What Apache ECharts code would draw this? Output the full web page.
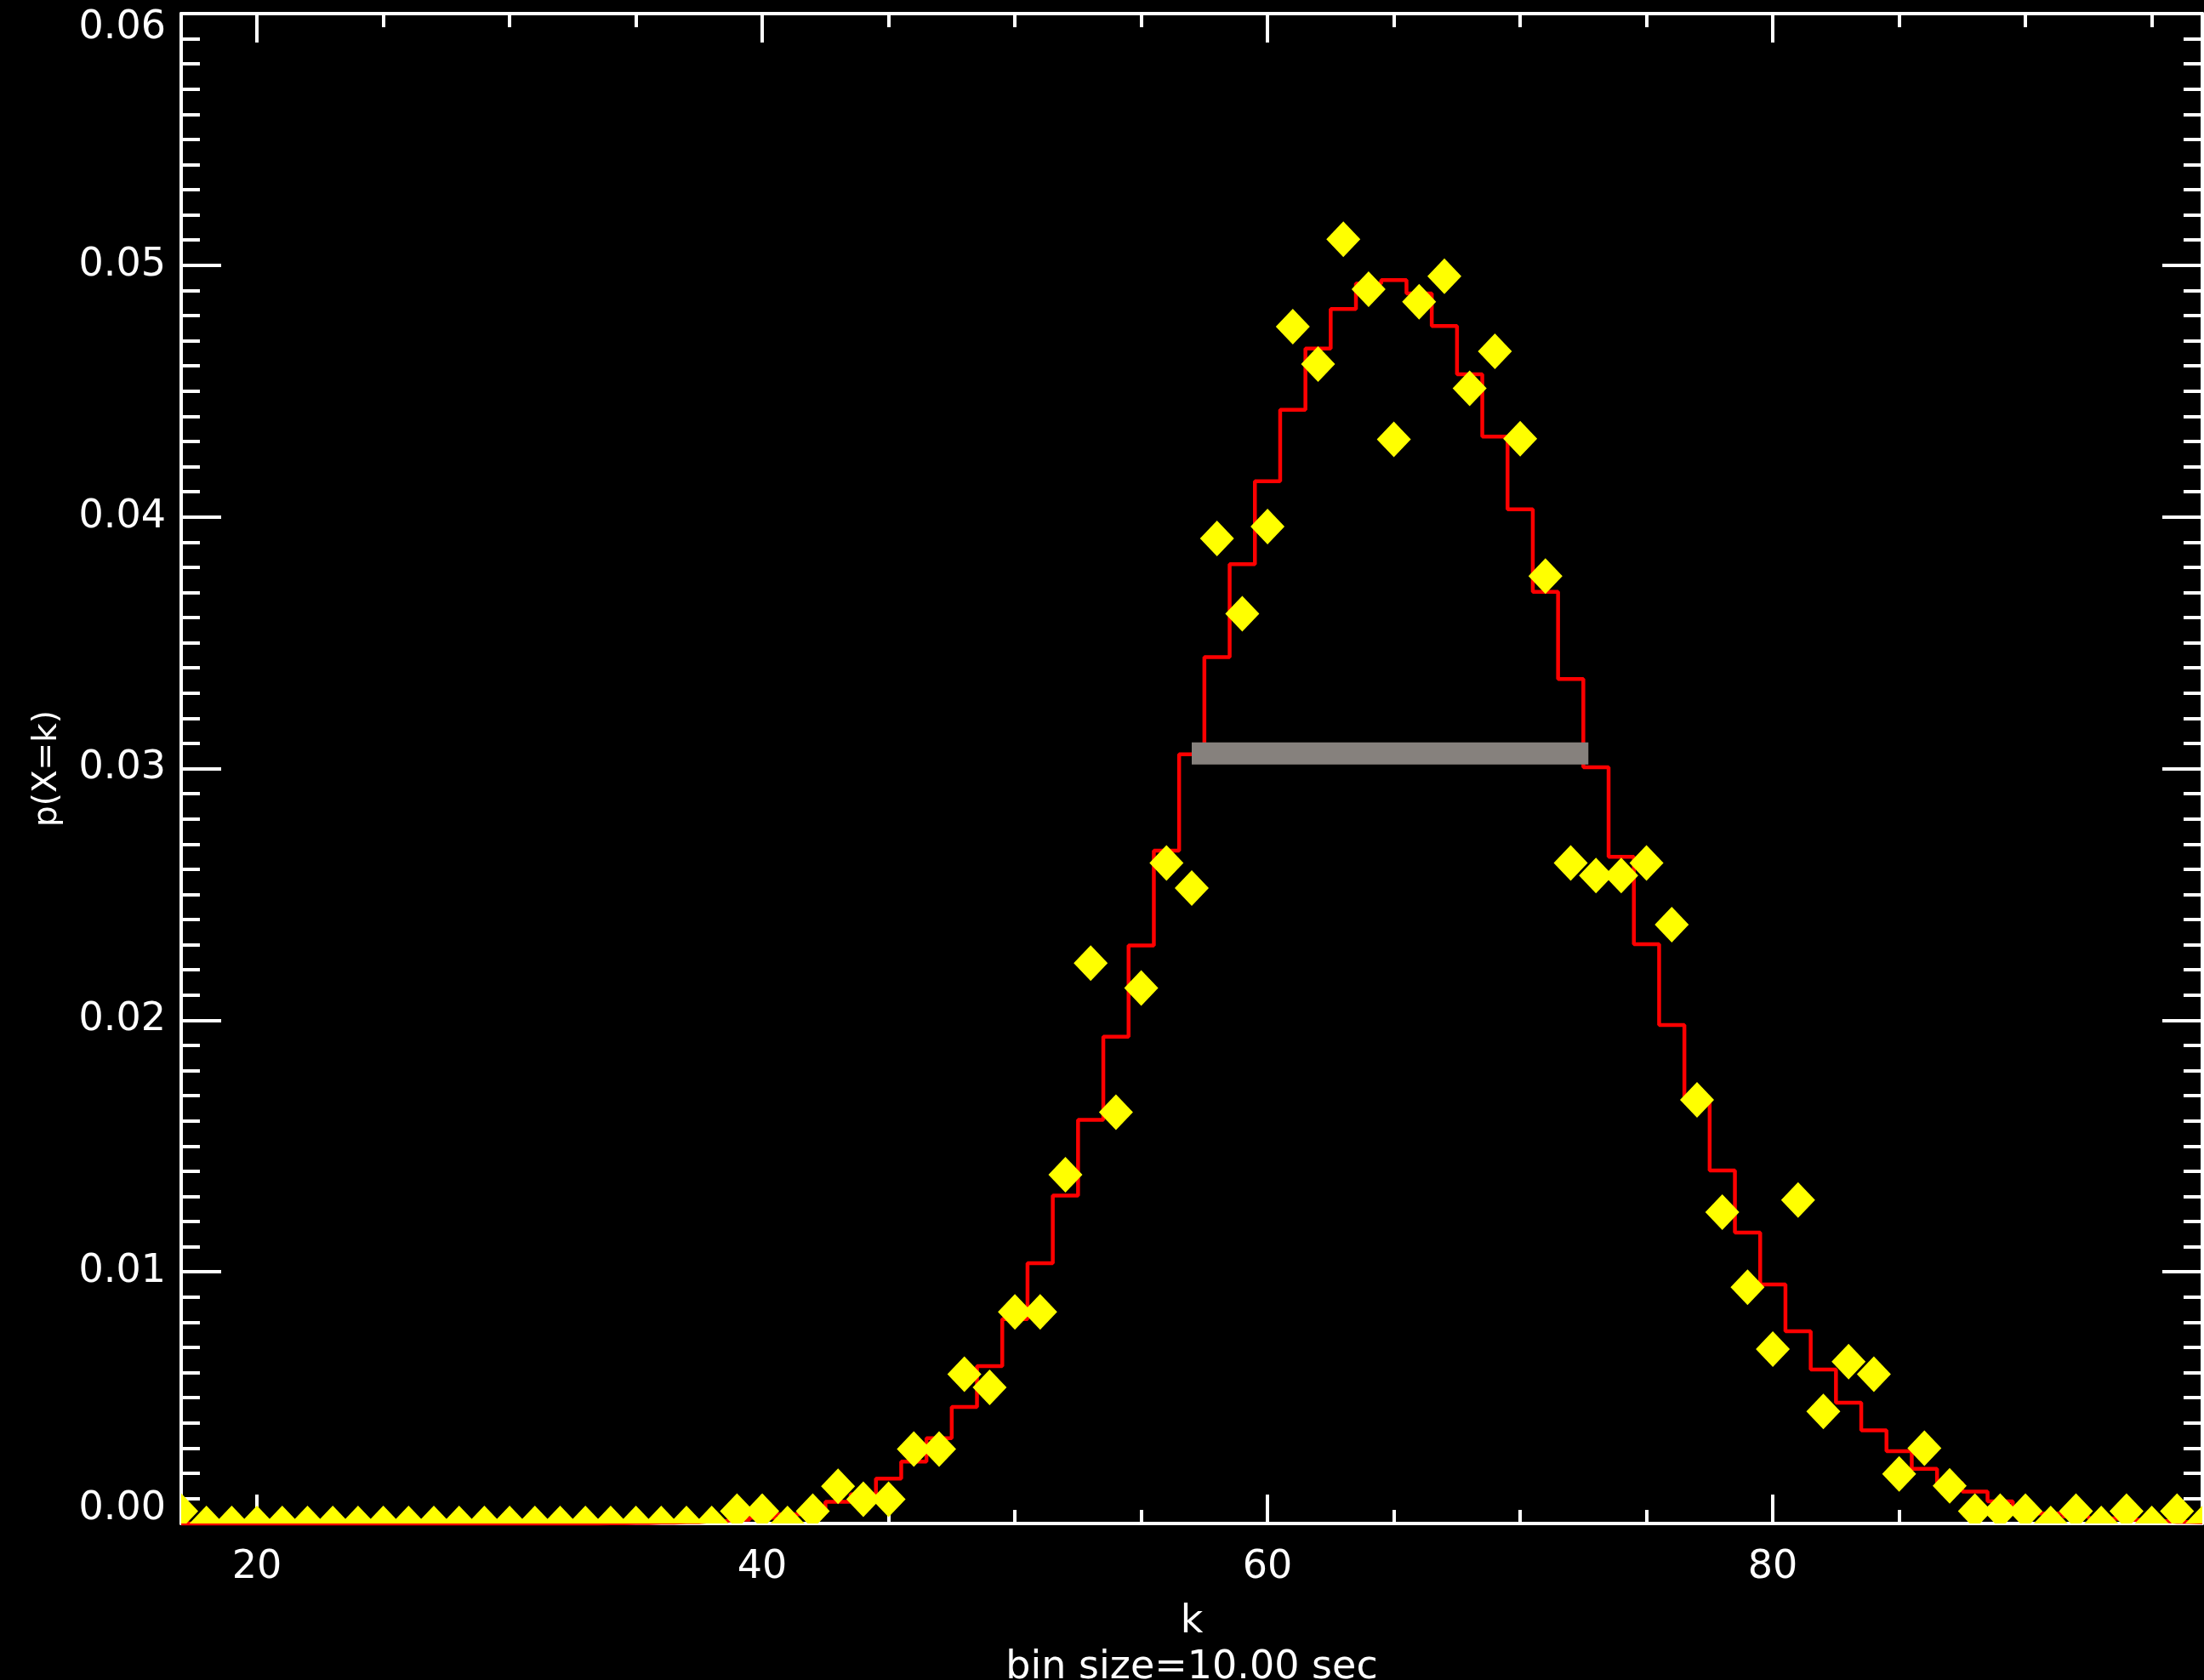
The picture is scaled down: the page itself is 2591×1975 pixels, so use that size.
<!DOCTYPE html>
<html>
<head>
<meta charset="utf-8">
<script src="https://cdn.jsdelivr.net/npm/echarts@6/dist/echarts.min.js"></script>
<style>
html,body{margin:0;padding:0;background:#000;}
#chart{width:2591px;height:1975px;}
</style>
</head>
<body>
<div id="chart"></div>
<script>
// k values (x)
const kValues = [17,18,19,20,21,22,23,24,25,26,27,28,29,30,31,32,33,34,35,36,37,38,39,40,41,42,43,44,45,46,47,48,49,50,51,52,53,54,55,56,57,58,59,60,61,62,63,64,65,66,67,68,69,70,71,72,73,74,75,76,77,78,79,80,81,82,83,84,85,86,87,88,89,90,91,92,93,94,95,96,97];
// observed frequencies (yellow diamonds)
const observed = [0.00049,0,0,0,0,0,0,0,0,0,0,0,0,0,0,0,0,0,0,0,0,0,0.00049,0.00049,0,0.00049,0.00148,0.00096,0.00096,0.00296,0.00296,0.00593,0.00541,0.00841,0.00841,0.01386,0.02227,0.01634,0.02128,0.02625,0.02525,0.03914,0.03615,0.03962,0.04756,0.04607,0.05103,0.04905,0.04308,0.04855,0.04956,0.04511,0.04658,0.04311,0.03765,0.02625,0.02575,0.02575,0.02625,0.02380,0.01683,0.01237,0.00939,0.00693,0.01285,0.00445,0.00643,0.00593,0.00197,0.00299,0.00150,0.00049,0.00049,0.00049,0,0.00049,0,0.00049,0,0.00049,0];
// model probabilities (red histogram)
const model = [0,0,0,0,0,0,0,0,0,0,0,0,0,0,0,0,0,0.00001,0.00002,0.00003,0.00005,0.00009,0.00015,0.00023,0.00036,0.00055,0.00086,0.00116,0.00178,0.00246,0.00339,0.00463,0.00625,0.00812,0.01034,0.01303,0.01604,0.01934,0.02297,0.02674,0.03057,0.03443,0.03812,0.04142,0.04426,0.04669,0.04826,0.04928,0.04941,0.04888,0.04759,0.04567,0.04319,0.04030,0.03702,0.03356,0.03005,0.02649,0.02302,0.01981,0.01683,0.01403,0.01156,0.00950,0.00764,0.00612,0.00480,0.00370,0.00287,0.00217,0.00161,0.00127,0.00088,0.00054,0.00040,0.00028,0.00020,0.00014,0.00010,0.00006,0.00004];
// grey bar: k range and level
const barRange = [57.0, 72.7];
const barLevel = 0.0306;
// ticks
const xMajorTicks = [20, 40, 60, 80];
const xMinorTicks = [20,25,30,35,40,45,50,55,60,65,70,75,80,85,90,95];
const yTickLabels = ['0.00','0.01','0.02','0.03','0.04','0.05','0.06'];
const xTitle = 'k';
const xSubTitle = 'bin size=10.00 sec';
const yTitle = 'p(X=k)';

const W = '#ffffff';
const FONT = 'DejaVu Sans';
const lineW = 4;

function xAxisDef(pos, major, showLabel) {
  return {
    type: 'value', min: 17, max: 97, position: pos,
    axisLine: { show: major, onZero: false, lineStyle: { color: W, width: lineW } },
    axisTick: { show: true, inside: true, length: major ? 34 : 16,
      customValues: major ? xMajorTicks : xMinorTicks,
      lineStyle: { color: W, width: lineW } },
    axisLabel: { show: showLabel, customValues: xMajorTicks, color: W,
      fontSize: 46, fontFamily: FONT, margin: 29 },
    splitLine: { show: false },
    minorTick: { show: false }
  };
}

const bottomMain = xAxisDef('bottom', true, true);
bottomMain.name = xTitle + '\n' + xSubTitle;
bottomMain.nameLocation = 'middle';
bottomMain.nameGap = 89;
bottomMain.nameMoveOverlap = false;
bottomMain.nameTextStyle = { color: W, fontSize: 46, fontFamily: FONT, lineHeight: 54 };

function yAxisDef(pos, showLabel) {
  return {
    type: 'value', min: 0, max: 0.06, interval: 0.01, position: pos,
    axisLine: { show: true, onZero: false, lineStyle: { color: W, width: lineW } },
    axisTick: { show: true, inside: true, length: 47, lineStyle: { color: W, width: lineW } },
    minorTick: { show: true, splitNumber: 10, length: 22, lineStyle: { color: W, width: lineW } },
    axisLabel: { show: showLabel, color: W, fontSize: 46, fontFamily: FONT, margin: 18,
      lineHeight: 34,
      formatter: (v, i) => yTickLabels[i],
      verticalAlignMaxLabel: 'top', verticalAlignMinLabel: 'bottom' },
    splitLine: { show: false }
  };
}
const leftY = yAxisDef('left', true);
leftY.name = yTitle;
leftY.nameLocation = 'middle';
leftY.nameGap = 138;
leftY.nameMoveOverlap = false;
leftY.nameTextStyle = { color: W, fontSize: 39, fontFamily: FONT };

const chart = echarts.init(document.getElementById('chart'), null, { renderer: 'canvas' });
chart.setOption({
  backgroundColor: '#000000',
  animation: false,
  grid: { left: 213, right: 2, top: 16, bottom: 184, containLabel: false, outerBoundsMode: 'none' },
  xAxis: [bottomMain, xAxisDef('bottom', false, false), xAxisDef('top', true, false), xAxisDef('top', false, false)],
  yAxis: [leftY, yAxisDef('right', false)],
  series: [
    {
      type: 'line', xAxisIndex: 0, yAxisIndex: 0, step: 'middle', clip: false,
      showSymbol: false, symbol: 'none', z: 3,
      lineStyle: { color: '#ff0000', width: 4.5 },
      data: kValues.map((k, i) => [k, model[i]])
    },
    {
      type: 'custom', xAxisIndex: 0, yAxisIndex: 0, clip: true, z: 5,
      data: kValues.map((k, i) => [k, observed[i]]),
      renderItem: function (params, api) {
        const c = api.coord([api.value(0), api.value(1)]);
        const hw = 20, hh = 21;
        return {
          type: 'polygon',
          shape: { points: [[c[0], c[1] - hh], [c[0] + hw, c[1]], [c[0], c[1] + hh], [c[0] - hw, c[1]]] },
          style: { fill: '#ffff00' }
        };
      }
    },
    {
      type: 'line', xAxisIndex: 0, yAxisIndex: 0, symbol: 'none', z: 6, clip: false,
      lineStyle: { color: '#86817d', width: 26, cap: 'butt' },
      data: [[barRange[0], barLevel], [barRange[1], barLevel]]
    }
  ]
});
</script>
</body>
</html>
